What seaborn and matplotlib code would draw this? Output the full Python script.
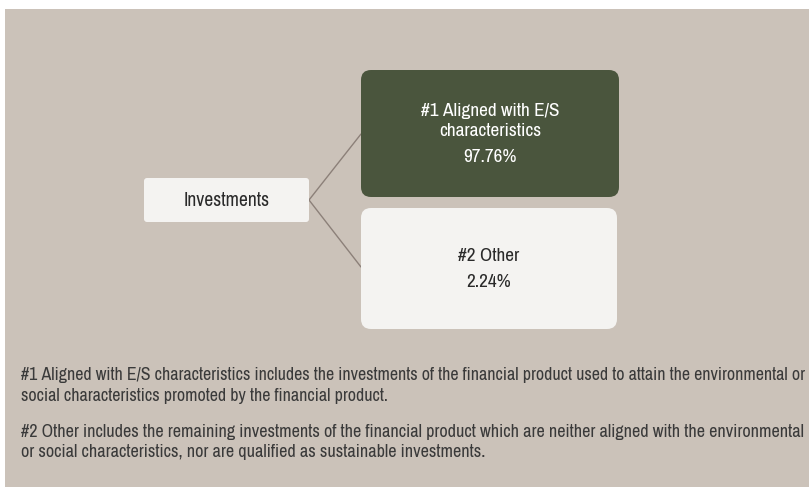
import matplotlib
matplotlib.use("Agg")
import matplotlib.pyplot as plt
from matplotlib.patches import FancyBboxPatch, Rectangle
import seaborn as sns

# data
root_label = "Investments"
categories = ["#1 Aligned with E/S\ncharacteristics", "#2 Other"]
shares = [97.76, 2.24]
footnotes = [
    ["#1 Aligned with E/S characteristics includes the investments of the financial product used to attain the environmental or",
     "social characteristics promoted by the financial product."],
    ["#2 Other includes the remaining investments of the financial product which are neither aligned with the environmental",
     "or social characteristics, nor are qualified as sustainable investments."],
]

sns.set_theme(style="white")
FONT = ['Archivo Narrow', 'PT Sans Narrow', 'DejaVu Sans']
plt.rcParams['font.family'] = FONT

BG = "#CBC2B9"
GREEN = "#4A553D"
LIGHT = "#F4F3F1"
LINE = "#8C8079"
DARK = "#2A2A2A"
FOOT = "#3A3A3A"

fig = plt.figure(figsize=(8.09, 4.93), dpi=100)
ax = fig.add_axes([0, 0, 1, 1])
ax.set_xlim(0, 809)
ax.set_ylim(493, 0)
ax.axis("off")
fig.patch.set_facecolor("white")
renderer = fig.canvas.get_renderer()

def fit_size(s, width, base=10.0):
    t = ax.text(0, 0, s, fontsize=base)
    w = t.get_window_extent(renderer).width
    t.remove()
    return base * width / w

ax.add_patch(Rectangle((5, 9), 804, 478, facecolor=BG, edgecolor="none", zorder=0))

def rbox(x0, y0, x1, y1, fc, r):
    ax.add_patch(FancyBboxPatch((x0 + r, y0 + r), (x1 - x0) - 2 * r, (y1 - y0) - 2 * r,
                                boxstyle=f"round,pad={r}", facecolor=fc, edgecolor="none",
                                zorder=2, mutation_aspect=1))

# root
rbox(144, 178, 309, 222, LIGHT, 3)
ax.text(226.5, 205.5, root_label, ha="center", va="baseline",
        fontsize=fit_size(root_label, 87), color=DARK, zorder=3)

box_size = fit_size("#1 Aligned with E/S", 139)
boxes = [(361, 70, 619, 197), (361, 208, 617, 329)]
fcs = [GREEN, LIGHT]
tcs = ["white", DARK]
baselines = [[116, 135.5, 161.5], [261, 287.3]]
for (x0, y0, x1, y1), cat, val, fc, tc, bl in zip(boxes, categories, shares, fcs, tcs, baselines):
    rbox(x0, y0, x1, y1, fc, 10)
    cx = (x0 + x1) / 2
    lines = cat.split("\n") + [f"{val:.2f}%"]
    for ln, b in zip(lines, bl):
        ax.text(cx, b, ln, ha="center", va="baseline", fontsize=box_size, color=tc, zorder=3)

# connectors
ax.plot([309, 361], [200, 134], color=LINE, lw=1, zorder=1)
ax.plot([309, 361], [200, 267], color=LINE, lw=1, zorder=1)

# footnotes
foot_base = [[380, 400.5], [436.5, 457]]
foot_widths = [786, 786]
for para, bls, fw in zip(footnotes, foot_base, foot_widths):
    fs = fit_size(para[0], fw)
    for ln, b in zip(para, bls):
        ax.text(21, b, ln, ha="left", va="baseline", fontsize=fs, color=FOOT, zorder=3)

fig.savefig("out.png", dpi=100, facecolor="white")
